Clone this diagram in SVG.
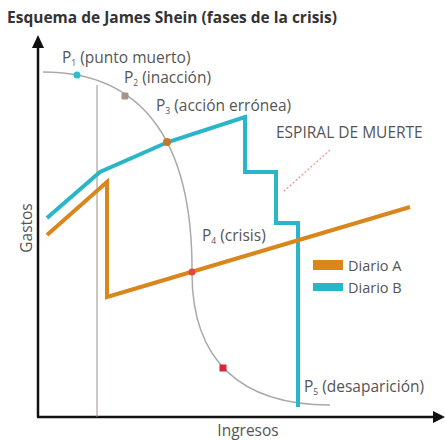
<svg xmlns="http://www.w3.org/2000/svg" width="445" height="440" viewBox="0 0 445 440">
  <style>
    .title { font-family: "Open Sans", "Liberation Sans", sans-serif; font-weight: bold; font-size: 15.5px; fill: #333333; }
    .lbl { font-family: "Open Sans", "Liberation Sans", sans-serif; font-size: 15.5px; fill: #555555; }
    .leg { font-family: "Open Sans", "Liberation Sans", sans-serif; font-size: 14.5px; fill: #555555; }
    .sub { font-size: 8.5px; }
    .axis { stroke: #111111; stroke-width: 2.5; fill: none; }
    .curve { stroke: #aaaaaa; stroke-width: 1.5; fill: none; }
    .diarioA { stroke: #d9861c; stroke-width: 4; fill: none; stroke-linejoin: miter; }
    .diarioB { stroke: #29b6c8; stroke-width: 4; fill: none; stroke-linejoin: miter; }
  </style>
  <rect width="445" height="440" fill="#ffffff"/>

  <text class="title" x="7" y="23">Esquema de James Shein (fases de la crisis)</text>

  <g id="axes">
    <line class="axis" x1="38" y1="417" x2="38" y2="46"/>
    <polygon points="32,48 38,35 44,48" fill="#111111"/>
    <line class="axis" x1="37" y1="417" x2="434" y2="417"/>
    <polygon points="433,411 445,417 433,423" fill="#111111"/>
    <text class="lbl" x="248" y="436" text-anchor="middle">Ingresos</text>
    <text class="lbl" x="0" y="0" text-anchor="middle" transform="translate(32,228) rotate(-90)">Gastos</text>
  </g>

  <g id="guide">
    <line x1="97" y1="85" x2="97" y2="417" stroke="#9b8e8b" stroke-width="1"/>
  </g>

  <g id="curve">
    <path class="curve" d="M43,72 C138,72 193,135 192,273 C192,360 240,405 330,405"/>
  </g>

  <g id="connectors">
    <polyline id="diario-b-line" class="diarioB" points="47,218 100,172 168,142 245,117 245,172 276,172 276,223 298,223 298,407"/>
    <polyline id="diario-a-line" class="diarioA" points="47,235 107,182 107,297 410,207"/>
    <line x1="330" y1="150" x2="283" y2="192" stroke="#ef8a8a" stroke-width="1.2" stroke-dasharray="2 2"/>
  </g>

  <g id="p1">
    <circle cx="77" cy="75" r="3.5" fill="#2bbfc9"/>
    <text class="lbl" x="62" y="63">P<tspan class="sub" dy="3">1</tspan><tspan dy="-3"> (punto muerto)</tspan></text>
  </g>
  <g id="p2">
    <rect x="121.5" y="92.5" width="7" height="7" rx="1.5" fill="#a8918a"/>
    <text class="lbl" x="124" y="83">P<tspan class="sub" dy="3">2</tspan><tspan dy="-3"> (inacción)</tspan></text>
  </g>
  <g id="p3">
    <circle cx="167" cy="142" r="4" fill="#c27a2a"/>
    <text class="lbl" x="156" y="111">P<tspan class="sub" dy="3">3</tspan><tspan dy="-3"> (acción errónea)</tspan></text>
  </g>
  <g id="p4">
    <circle cx="192" cy="272" r="3.5" fill="#e2473a"/>
    <text class="lbl" x="202" y="241">P<tspan class="sub" dy="3">4</tspan><tspan dy="-3"> (crisis)</tspan></text>
  </g>
  <g id="p-red">
    <rect x="219.5" y="364.5" width="7" height="7" fill="#d9253a"/>
  </g>
  <g id="p5">
    <text class="lbl" x="304" y="392">P<tspan class="sub" dy="3">5</tspan><tspan dy="-3"> (desaparición)</tspan></text>
  </g>
  <g id="spiral">
    <text class="lbl" x="276" y="138">ESPIRAL DE MUERTE</text>
  </g>

  <g id="legend">
    <rect x="313" y="260" width="30" height="10" fill="#d9861c"/>
    <text class="leg" x="348" y="271">Diario A</text>
    <rect x="313" y="283" width="30" height="8" fill="#29b6c8"/>
    <text class="leg" x="348" y="293">Diario B</text>
  </g>
</svg>
